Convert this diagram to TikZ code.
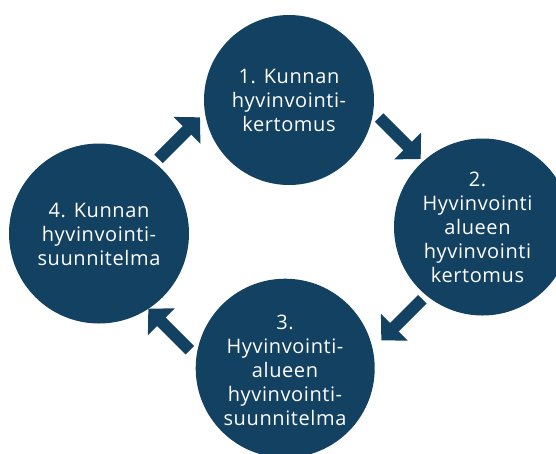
\documentclass[tikz,border=0pt]{standalone}
\usepackage{fontspec}
\setmainfont[LetterSpace=3]{Open Sans}
\usetikzlibrary{arrows.meta}
\definecolor{navy}{RGB}{18,65,98}
\begin{document}
\begin{tikzpicture}[x=1pt,y=-1pt,
  stage/.style={circle, fill=navy, minimum size=#1, inner sep=0pt},
  stagetext/.style={text=white, align=center, inner sep=0pt, font=\fontsize{20}{24}\selectfont},
  flow/.style={navy, line width=12pt, line cap=butt, -{Triangle[length=18.5pt,width=37pt]}}]
\clip (0,0) rectangle (556,453);
\node[stage=170pt] (c1) at (289,100) {};
\node[stage=177pt] (c2) at (482.5,227) {};
\node[stage=179pt] (c3) at (285.2,368.2) {};
\node[stage=180pt] (c4) at (99,233.5) {};
\node[stagetext] (t1) at (289,100) {1. Kunnan\\hyvinvointi-\\kertomus};
\node[stagetext] (t2) at (477.5,227) {2.\\Hyvinvointi\\alueen\\hyvinvointi\\kertomus};
\node[stagetext] (t3) at (285,370) {3.\\Hyvinvointi-\\alueen\\hyvinvointi-\\suunnitelma};
\node[stagetext] (t4) at (99,234) {4. Kunnan\\hyvinvointi-\\suunnitelma};
\coordinate (a1s) at (158.5,158.8);
\coordinate (a1e) at (200,117.3);
\coordinate (a2s) at (379.2,117.5);
\coordinate (a2e) at (420.7,159);
\coordinate (a3s) at (422.3,299.3);
\coordinate (a3e) at (381.3,340.3);
\coordinate (a4s) at (189.8,350.2);
\coordinate (a4e) at (148.3,308.7);
\draw[flow] (a1s) -- (a1e);
\draw[flow] (a2s) -- (a2e);
\draw[flow] (a3s) -- (a3e);
\draw[flow] (a4s) -- (a4e);
\end{tikzpicture}
\end{document}
